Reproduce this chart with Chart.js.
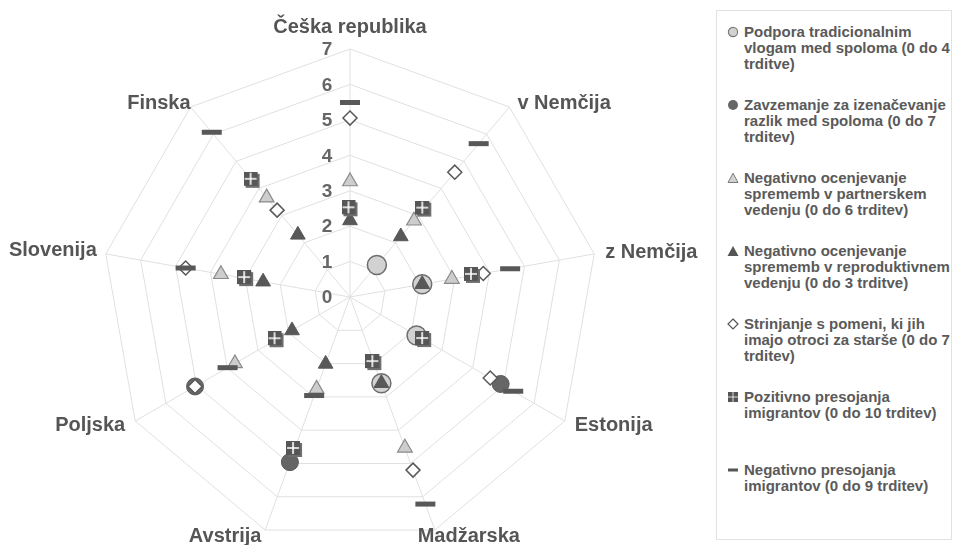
<!DOCTYPE html>
<html>
<head>
<meta charset="utf-8">
<script src="https://cdn.jsdelivr.net/npm/chart.js@4/dist/chart.umd.min.js"></script>
<style>
  html, body { margin: 0; padding: 0; background: #fff; width: 953px; height: 545px; overflow: hidden; }
  #wrap { position: absolute; left: 0; top: 0; width: 715px; height: 545px; }
  #legend { position: absolute; left: 716px; top: 10px; width: 236px; height: 530px; border: 1px solid #e2e2e2; box-sizing: border-box; }
  .item { position: absolute; left: 0; width: 236px; font-family: "Liberation Sans", Arial, sans-serif; font-weight: bold; font-size: 15px; line-height: 16px; color: #5a5a5a; }
  .item .txt { position: absolute; left: 27px; top: 0; white-space: nowrap; }
  .item svg { position: absolute; left: 10px; top: 2px; }
</style>
</head>
<body>
<div id="wrap"><canvas id="c"></canvas></div>
<div id="legend"></div>
<script>
// ---- data ----
const categories = ['Češka republika', 'v Nemčija', 'z Nemčija', 'Estonija', 'Madžarska', 'Avstrija', 'Poljska', 'Slovenija', 'Finska'];
const tickValues = [0, 1, 2, 3, 4, 5, 6, 7];
const seriesNames = [
  ['Podpora tradicionalnim', 'vlogam med spoloma (0 do 4', 'trditve)'],
  ['Zavzemanje za izenačevanje', 'razlik med spoloma (0 do 7', 'trditev)'],
  ['Negativno ocenjevanje', 'sprememb v partnerskem', 'vedenju (0 do 6 trditev)'],
  ['Negativno ocenjevanje', 'sprememb v reproduktivnem', 'vedenju (0 do 3 trditve)'],
  ['Strinjanje s pomeni, ki jih', 'imajo otroci za starše (0 do 7', 'trditev)'],
  ['Pozitivno presojanja', 'imigrantov (0 do 10 trditev)'],
  ['Negativno presojanja', 'imigrantov (0 do 9 trditev)']
];
const podpora     = [null, 1.18, 2.07, 2.17, 2.59, null, null, null, null];
const zavzemanje  = [null, null, null, 4.91, null, 4.96, 5.05, null, null];
const negPartner  = [3.26, 2.81, 2.92, null, 4.53, 2.76, 3.75, 3.70, 3.66];
const negRepro    = [2.16, 2.23, 2.07, null, 2.59, 2.01, 1.89, 2.49, 2.29];
const strinjanje  = [5.05, 4.60, 3.82, 4.57, 5.20, null, 5.05, 4.71, 3.20];
const pozImig     = [2.49, 3.24, 3.51, 2.40, 1.97, 4.58, 2.41, 2.99, 4.30];
const negImig     = [5.49, 5.65, 4.59, 5.32, 6.22, 2.96, 3.99, 4.71, 6.07];

// ---- custom marker: square with white cross ----
function makeSquareMarker() {
  const cv = document.createElement('canvas');
  cv.width = 17; cv.height = 17;
  const g = cv.getContext('2d');
  g.fillStyle = '#6e6e6e';
  g.fillRect(2, 2, 14, 14);
  g.fillStyle = '#565656';
  g.fillRect(0, 0, 14, 14);
  g.strokeStyle = '#ffffff';
  g.lineWidth = 1.6;
  g.beginPath();
  g.moveTo(7, 1); g.lineTo(7, 13);
  g.moveTo(1, 7); g.lineTo(13, 7);
  g.stroke();
  return cv;
}
const squareMarker = makeSquareMarker();

const styles = [
  { pointStyle: 'circle',   radius: 9.5, bg: '#d2d2d2', border: '#6e6e6e', bw: 1.5, legend: 'circleLight' },
  { pointStyle: 'circle',   radius: 8.5, bg: '#666666', border: '#5a5a5a', bw: 1,   legend: 'circleDark' },
  { pointStyle: 'triangle', radius: 8.5, bg: '#cdcdcd', border: '#8a8a8a', bw: 1.2, legend: 'triLight' },
  { pointStyle: 'triangle', radius: 8.5, bg: '#585858', border: '#585858', bw: 1,   legend: 'triDark' },
  { pointStyle: 'rectRot',  radius: 7,   bg: '#ffffff', border: '#585858', bw: 1.5, legend: 'diamond' },
  { pointStyle: squareMarker, radius: 8, bg: '#565656', border: '#565656', bw: 0, legend: 'squares' },
  { pointStyle: 'line',     radius: 10,  bg: '#585858', border: '#585858', bw: 5,   legend: 'dash' }
];
const seriesData = [podpora, zavzemanje, negPartner, negRepro, strinjanje, pozImig, negImig];

const datasets = seriesData.map((d, i) => ({
  label: seriesNames[i].join(' '),
  data: d,
  showLine: false,
  fill: false,
  borderWidth: 0,
  order: seriesData.length - i,
  pointStyle: styles[i].pointStyle,
  pointRadius: styles[i].radius,
  pointHoverRadius: styles[i].radius,
  pointBackgroundColor: styles[i].bg,
  pointBorderColor: styles[i].border,
  pointBorderWidth: styles[i].bw
}));

// label placement (relative to outer vertex): align, dx, dy
const labelPlacement = [
  ['center', 0, -22], ['left', 8, -4], ['left', 11, -1], ['left', 10, 4],
  ['center', 34, 6], ['center', -40, 6], ['right', -10, 4], ['right', -9, -3], ['right', 0, -4]
];

const labelsPlugin = {
  id: 'radarText',
  beforeDatasetsDraw(chart) {
    const s = chart.scales.r;
    const ctx = chart.ctx;
    ctx.save();
    // tick labels
    ctx.font = 'bold 19px "Liberation Sans", Arial, sans-serif';
    ctx.fillStyle = '#666666';
    ctx.textAlign = 'center';
    ctx.textBaseline = 'middle';
    tickValues.forEach(v => {
      const d = s.getDistanceFromCenterForValue(v);
      ctx.fillText(String(v), s.xCenter - 23, s.yCenter - d + 1);
    });
    // category labels
    ctx.font = 'bold 20px "Liberation Sans", Arial, sans-serif';
    ctx.fillStyle = '#555555';
    categories.forEach((c, i) => {
      const p = s.getPointPosition(i, s.drawingArea);
      const pl = labelPlacement[i];
      ctx.textAlign = pl[0];
      ctx.fillText(c, p.x + pl[1], p.y + pl[2]);
    });
    ctx.restore();
  }
};

new Chart(document.getElementById('c'), {
  type: 'radar',
  data: { labels: categories, datasets: datasets },
  plugins: [labelsPlugin],
  options: {
    responsive: true,
    maintainAspectRatio: false,
    animation: false,
    events: [],
    layout: { padding: { left: 50, right: 65, top: 49, bottom: 0 } },
    plugins: { legend: { display: false }, tooltip: { enabled: false } },
    scales: {
      r: {
        min: 0, max: 7,
        startAngle: 0,
        ticks: { display: false, stepSize: 1 },
        pointLabels: { display: false },
        grid: { color: '#e0e0e0', lineWidth: 1 },
        angleLines: { color: '#e0e0e0', lineWidth: 1 }
      }
    }
  }
});

// ---- HTML legend ----
function markerSvg(kind) {
  const a = '<svg width="12" height="12" viewBox="0 0 12 12">';
  let b = '';
  if (kind === 'circleLight') b = '<circle cx="6" cy="6" r="4.6" fill="#d2d2d2" stroke="#7a7a7a" stroke-width="1.2"/>';
  if (kind === 'circleDark') b = '<circle cx="6" cy="6" r="5" fill="#666"/>';
  if (kind === 'triLight') b = '<polygon points="6,1.2 11,10.5 1,10.5" fill="#d2d2d2" stroke="#7a7a7a" stroke-width="1"/>';
  if (kind === 'triDark') b = '<polygon points="6,1 11.5,11 0.5,11" fill="#555"/>';
  if (kind === 'diamond') b = '<polygon points="6,1 11,6 6,11 1,6" fill="#fff" stroke="#555" stroke-width="1.2"/>';
  if (kind === 'squares') b = '<rect x="1" y="1" width="4.6" height="4.6" fill="#555"/><rect x="6.4" y="1" width="4.6" height="4.6" fill="#555"/><rect x="1" y="6.4" width="4.6" height="4.6" fill="#555"/><rect x="6.4" y="6.4" width="4.6" height="4.6" fill="#555"/>';
  if (kind === 'dash') b = '<rect x="1" y="4.5" width="10" height="3" fill="#555"/>';
  return a + b + '</svg>';
}
const legendEl = document.getElementById('legend');
seriesNames.forEach((lines, i) => {
  const div = document.createElement('div');
  div.className = 'item';
  div.style.top = (13 + 73 * i) + 'px';
  div.innerHTML = markerSvg(styles[i].legend) + '<div class="txt">' + lines.join('<br>') + '</div>';
  legendEl.appendChild(div);
});
</script>
</body>
</html>
